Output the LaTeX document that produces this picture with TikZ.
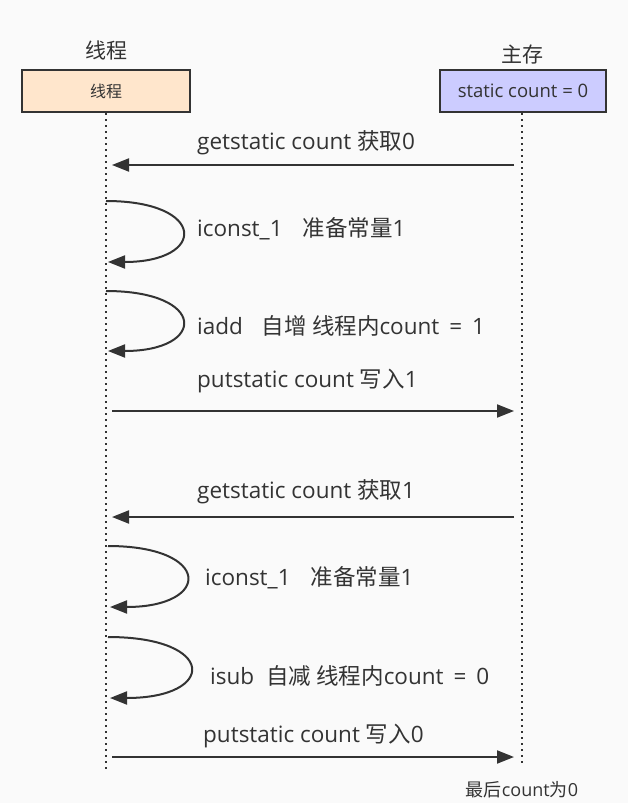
\documentclass[tikz,border=0pt]{standalone}
\usepackage{fontspec}
\setmainfont{Open Sans}
\newfontfamily\cjk{Noto Sans CJK SC}
\newcommand{\zh}[1]{{\cjk #1}}
\newcommand{\eqs}{\hspace{10pt}=\hspace{10pt}}
\usetikzlibrary{arrows.meta}
\definecolor{bg}{HTML}{FAFAFA}
\definecolor{ink}{HTML}{333333}
\definecolor{peach}{HTML}{FFE6CC}
\definecolor{lav}{HTML}{CCCCFF}
\tikzset{
  box/.style={draw=ink, line width=2pt, minimum width=168pt, minimum height=42pt, inner sep=0pt, font=\fontsize{18.5}{22}\selectfont, text=ink},
  title/.style={font=\fontsize{21}{24}\selectfont\cjk, text=ink},
  lbl/.style={font=\fontsize{22.5}{26}\selectfont, text=ink, inner sep=0pt},
  life/.style={ink, line width=2pt, dash pattern=on 2pt off 4pt},
  msg/.style={ink, line width=2pt, -{Triangle[length=17pt,width=13pt]}},
}
\begin{document}
\begin{tikzpicture}[x=1pt,y=-1pt]
\fill[bg] (0,0) rectangle (628,803);
\useasboundingbox (0,0) rectangle (628,803);

\node[title] (t1) at (106,50) {线程};
\node[title] (t2) at (522,55) {主存};
\node[box, fill=peach] (b1) at (106,91) {\fontsize{16}{19}\selectfont\zh{线程}};
\node[box, fill=lav, minimum width=166pt] (b2) at (523,91) {static count = 0};

\coordinate (l1e) at (106,772);
\coordinate (l2e) at (522,765);
\draw[life] (b1.south) -- (l1e);
\draw[life] (b2.south -| l2e) -- (l2e);

% message 1
\coordinate (a1s) at (514,165);
\coordinate (a1e) at (112,165);
\draw[msg] (a1s) -- (a1e);
\node[lbl, anchor=west] (m1) at (197,143) {getstatic count \zh{获取}0};

% loop 1
\coordinate (s1s) at (106,201);
\coordinate (s1e) at (108,262);
\draw[msg] (s1s) .. controls (207,201) and (207,262) .. (s1e);
\node[lbl, anchor=west] (m2) at (197,229) {iconst\_1\hspace{20pt}\zh{准备常量}1};

% loop 2
\coordinate (s2s) at (106,291);
\coordinate (s2e) at (108,351);
\draw[msg] (s2s) .. controls (207,291) and (207,351) .. (s2e);
\node[lbl, anchor=west] (m3) at (197,326) {iadd\hspace{19pt}\zh{自增 线程内}count\eqs 1};

% putstatic 1
\coordinate (p1s) at (112,411);
\coordinate (p1e) at (514,411);
\draw[msg] (p1s) -- (p1e);
\node[lbl, anchor=west] (m4) at (197,381) {putstatic count \zh{写入}1};

% getstatic 2
\coordinate (a2s) at (514,517);
\coordinate (a2e) at (112,517);
\draw[msg] (a2s) -- (a2e);
\node[lbl, anchor=west] (m5) at (197,492) {getstatic count \zh{获取}1};

% loop 3
\coordinate (s3s) at (108,546);
\coordinate (s3e) at (110,607);
\draw[msg] (s3s) .. controls (212,546) and (212,607) .. (s3e);
\node[lbl, anchor=west] (m6) at (205,578) {iconst\_1\hspace{20pt}\zh{准备常量}1};

% loop 4
\coordinate (s4s) at (108,637);
\coordinate (s4e) at (110,698);
\draw[msg] (s4s) .. controls (217,637) and (217,698) .. (s4e);
\node[lbl, anchor=west] (m7) at (210,676) {isub\hspace{12pt}\zh{自减 线程内}count\eqs 0};

% putstatic 0
\coordinate (p2s) at (112,757);
\coordinate (p2e) at (514,757);
\draw[msg] (p2s) -- (p2e);
\node[lbl, anchor=west] (m8) at (203,736) {putstatic count \zh{写入}0};

\node[font=\fontsize{18}{21}\selectfont, text=ink] (fin) at (522,790) {\zh{最后}count\zh{为}0};
\end{tikzpicture}
\end{document}
